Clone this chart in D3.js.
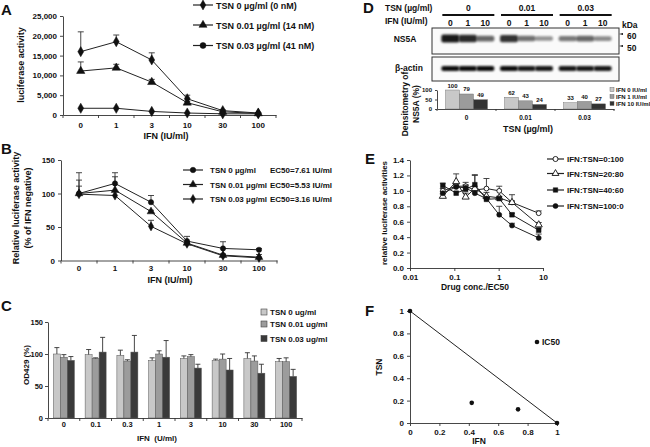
<!DOCTYPE html>
<html><head><meta charset="utf-8">
<script src="https://cdn.jsdelivr.net/npm/d3@7/dist/d3.min.js"></script>
<style>
body{margin:0;background:#fff;}
svg{display:block;}
</style></head><body>
<svg id="c" width="650" height="447"></svg>
<script>
// ---------------- DATA ----------------
// Panel A
const ifnCatsA = ["0","1","3","10","30","100"];
const aTicks = [0,5000,10000,15000,20000,25000];
const aTsn0 = [16000,18500,13900,4100,1100,500];
const aTsn001 = [11100,11900,8300,3100,800,400];
const aTsn003 = [1700,1700,900,500,300,300];
const aErr0 = [5000,1700,1800,900,200,100];
const aErr001 = [2300,900,700,300,100,100];
const aLegend = ["TSN 0 µg/ml (0 nM)","TSN 0.01 µg/ml (14 nM)","TSN 0.03 µg/ml (41 nM)"];
// Panel B
const bTicks = [0,50,100,150];
const bTsn0 = [100,115,87,29,18,16];
const bTsn001 = [100,105,73,26,8,5];
const bTsn003 = [99,97,51,25,7,4];
const bErr0 = [31,16,10,7,10,2];
const bErr001 = [20,20,2,2,2,4];
const bErr003 = [12,0,9,2,2,1];
const bLegend = ["TSN 0 µg/ml","TSN 0.01 µg/ml","TSN 0.03 µg/ml"];
const bEC50 = ["EC50=7.61 IU/ml","EC50=5.53 IU/ml","EC50=3.16 IU/ml"];
// Panel C
const ifnCatsC = ["0","0.1","0.3","1","3","10","30","100"];
const cTicks = [0,50,100,150];
const cTsn0 = [100,99,98,90,93,90,93,88];
const cTsn001 = [95,93,89,100,96,92,89,88];
const cTsn003 = [90,103,103,95,78,75,70,65];
const cErr0 = [10,8,8,4,4,2,9,5];
const cErr001 = [4,1,2,5,3,8,8,6];
const cErr003 = [6,23,26,26,6,18,14,11];
const cLegend = ["TSN 0 ug/ml","TSN 0.01 ug/ml","TSN 0.03 ug/ml"];
// Panel D
const dTsnGroups = ["0","0.01","0.03"];
const dIfnLanes = ["0","1","10"];
const dNs5aBand = [1.0,0.9,0.55,0.85,0.5,0.3,0.45,0.55,0.35];
const dActinBand = [0.95,0.95,0.95,0.95,0.9,0.9,0.9,0.9,0.9];
const dDens0 = [100,62,33];
const dDens1 = [79,43,40];
const dDens10 = [49,24,27];
const dTicks = [0,50,100];
const dLegend = ["IFN 0 IU/ml","IFN 1 IU/ml","IFN 10 IU/ml"];
// Panel E
const eX = [0.055,0.11,0.18,0.29,0.53,1.03,2.0,8.0];
const eXTicks = [0.01,0.1,1,10];
const eYTicks = [0,0.2,0.4,0.6,0.8,1.0,1.2,1.4];
const e0_100 = [1.0,1.06,1.06,1.01,1.03,1.0,0.85,0.71];
const e20_80 = [0.93,1.12,0.92,1.03,0.93,0.91,0.85,0.56];
const e40_60 = [1.07,0.97,1.02,1.08,0.89,0.9,0.69,0.49];
const e100_0 = [0.97,1.05,1.04,0.97,0.9,0.69,0.55,0.39];
const eErr0_100 = [0.03,0.04,0.05,0.05,0.13,0.06,0.1,0.03];
const eErr20_80 = [0.03,0.1,0.05,0.17,0.05,0.02,0.02,0.03];
const eErr40_60 = [0.03,0.02,0.06,0.13,0.03,0.02,0.02,0.03];
const eErr100_0 = [0.02,0.03,0.03,0.02,0.02,0.11,0.03,0.05];
const eLegend = ["IFN:TSN=0:100","IFN:TSN=20:80","IFN:TSN=40:60","IFN:TSN=100:0"];
// Panel F
const fIFN = [0,0.42,0.735,1];
const fTSN = [1,0.18,0.122,0];
const fTicks = [0,0.2,0.4,0.6,0.8,1];

// ---------------- HELPERS ----------------
const FONT = '"Liberation Sans", Arial, sans-serif';
const svg = d3.select("#c").attr("font-family",FONT).attr("font-weight","bold");
const INK = "#111";

function styleAxis(g, fs){
  g.attr("font-family",FONT).attr("font-size",fs).attr("font-weight","bold");
  g.selectAll("path,line").attr("stroke","#333").attr("stroke-width",0.9);
  g.selectAll("text").attr("fill",INK);
  return g;
}
function txt(x,y,s,fs,anchor,rot){
  const t = svg.append("text").attr("x",x).attr("y",y).text(s)
    .attr("font-size",fs).attr("fill",INK).attr("text-anchor",anchor||"start");
  if(rot) t.attr("transform",`rotate(${rot},${x},${y})`);
  return t;
}
function boundaryTicks(g, band, y0, len){
  const bounds = band.domain().map(d=>band(d)).concat([band.range()[1]]);
  g.selectAll(null).data(bounds).enter().append("line")
    .attr("x1",d=>d).attr("x2",d=>d).attr("y1",y0).attr("y2",y0+len)
    .attr("stroke","#333").attr("stroke-width",0.9);
}
function errBars(g, xs, ys, errs, yS, cap){
  errs.forEach((e,i)=>{
    if(e<=0) return;
    g.append("line").attr("x1",xs[i]).attr("x2",xs[i]).attr("y1",yS(ys[i])).attr("y2",yS(ys[i]+e))
      .attr("stroke","#333").attr("stroke-width",0.9);
    g.append("line").attr("x1",xs[i]-cap).attr("x2",xs[i]+cap).attr("y1",yS(ys[i]+e)).attr("y2",yS(ys[i]+e))
      .attr("stroke","#333").attr("stroke-width",0.9);
  });
}
function series(g, xs, ys, yS, sym, size, fill){
  g.append("path").attr("d", d3.line()(ys.map((v,i)=>[xs[i],yS(v)])))
    .attr("fill","none").attr("stroke","#222").attr("stroke-width",1);
  ys.forEach((v,i)=>{
    g.append("path").attr("d", d3.symbol().type(sym).size(size)())
      .attr("transform",`translate(${xs[i]},${yS(v)})`)
      .attr("fill",fill).attr("stroke","#111").attr("stroke-width",fill==="#fff"?0.9:0.5);
  });
}
function legendLine(x1,x2,y,sym,size,fill){
  svg.append("line").attr("x1",x1).attr("x2",x2).attr("y1",y).attr("y2",y).attr("stroke","#222").attr("stroke-width",1.2);
  svg.append("path").attr("d", d3.symbol().type(sym).size(size)())
    .attr("transform",`translate(${(x1+x2)/2},${y})`).attr("fill",fill).attr("stroke","#111").attr("stroke-width",fill==="#fff"?0.9:0.5);
}

// ---------------- PANEL A ----------------
{
  const g = svg.append("g");
  const x = d3.scaleBand().domain(ifnCatsA).range([63,276]);
  const y = d3.scaleLinear().domain([0,25000]).range([115,16]);
  styleAxis(g.append("g").attr("transform","translate(63,0)")
    .call(d3.axisLeft(y).tickValues(aTicks).tickSize(3).tickSizeOuter(0).tickPadding(3)), 8);
  styleAxis(g.append("g").attr("transform","translate(0,115)")
    .call(d3.axisBottom(x).tickSize(0).tickSizeOuter(0).tickPadding(7)), 8);
  boundaryTicks(g, x, 115, 3);
  const xs = ifnCatsA.map(d=>x(d)+x.bandwidth()/2);
  errBars(g, xs, aTsn0, aErr0, y, 3);
  errBars(g, xs, aTsn001, aErr001, y, 3);
  series(g, xs, aTsn0, y, d3.symbolDiamond, 30, "#111");
  series(g, xs, aTsn001, y, d3.symbolTriangle, 30, "#111");
  series(g, xs, aTsn003, y, d3.symbolDiamond, 30, "#111");
  const syms = [d3.symbolDiamond,d3.symbolTriangle,d3.symbolCircle];
  [5,25,45.5].forEach((ly,i)=>{ legendLine(193,213,ly,syms[i],28,"#111"); txt(216,ly+3.5,aLegend[i],9); });
  txt(24,65,"luciferase activity",9,"middle",-90);
  txt(166,139,"IFN (IU/ml)",9,"middle");
  txt(1,15,"A",15);
}
// ---------------- PANEL B ----------------
{
  const g = svg.append("g");
  const x = d3.scaleBand().domain(ifnCatsA).range([61,277]);
  const y = d3.scaleLinear().domain([0,150]).range([260.5,160]);
  styleAxis(g.append("g").attr("transform","translate(61,0)")
    .call(d3.axisLeft(y).tickValues(bTicks).tickSize(3).tickSizeOuter(0).tickPadding(3)), 8);
  styleAxis(g.append("g").attr("transform","translate(0,260.5)")
    .call(d3.axisBottom(x).tickSize(0).tickSizeOuter(0).tickPadding(5)), 8);
  boundaryTicks(g, x, 260.5, 3);
  const xs = ifnCatsA.map(d=>x(d)+x.bandwidth()/2);
  errBars(g, xs, bTsn0, bErr0, y, 3);
  errBars(g, xs, bTsn001, bErr001, y, 3);
  errBars(g, xs, bTsn003, bErr003, y, 3);
  series(g, xs, bTsn0, y, d3.symbolCircle, 22, "#111");
  series(g, xs, bTsn001, y, d3.symbolTriangle, 26, "#111");
  series(g, xs, bTsn003, y, d3.symbolDiamond, 24, "#111");
  const syms = [d3.symbolCircle,d3.symbolTriangle,d3.symbolDiamond];
  [170,184.5,199].forEach((ly,i)=>{ legendLine(183,203,ly,syms[i],24,"#111"); txt(210,ly+3,bLegend[i],8); txt(270,ly+3,bEC50[i],8); });
  txt(19,208,"Relative luciferase activity",9,"middle",-90);
  txt(31,208,"(% of IFN negative)",9,"middle",-90);
  txt(170,283,"IFN (IU/ml)",9,"middle");
  txt(1,154,"B",15);
}
// ---------------- PANEL C ----------------
{
  const g = svg.append("g");
  const x = d3.scaleBand().domain(ifnCatsC).range([48,302]);
  const y = d3.scaleLinear().domain([0,150]).range([418,322]);
  styleAxis(g.append("g").attr("transform","translate(48,0)")
    .call(d3.axisLeft(y).tickValues(cTicks).tickSize(3).tickSizeOuter(0).tickPadding(2)), 7.5);
  styleAxis(g.append("g").attr("transform","translate(0,418)")
    .call(d3.axisBottom(x).tickSize(0).tickSizeOuter(0).tickPadding(4)), 7.5);
  boundaryTicks(g, x, 418, 3);
  const inner = d3.scaleBand().domain([0,1,2]).range([0,21]);
  const cols = ["#c8c8c8","#9c9c9c","#3a3a3a"];
  const vals = [cTsn0,cTsn001,cTsn003], errs=[cErr0,cErr001,cErr003];
  vals.forEach((arr,s)=>{
    arr.forEach((v,i)=>{
      const bx = x(ifnCatsC[i]) + x.bandwidth()/2 - 10.5 + inner(s);
      g.append("rect").attr("x",bx).attr("y",y(v)).attr("width",inner.bandwidth()).attr("height",y(0)-y(v))
        .attr("fill",cols[s]).attr("stroke","#555").attr("stroke-width",0.5);
    });
    errBars(g, arr.map((v,i)=>x(ifnCatsC[i])+x.bandwidth()/2-10.5+inner(s)+inner.bandwidth()/2), arr, errs[s], y, 2.5);
  });
  [312,324,338.5].forEach((ly,i)=>{
    svg.append("rect").attr("x",261).attr("y",ly-3).attr("width",6).attr("height",6).attr("fill",cols[i]).attr("stroke","#444").attr("stroke-width",0.6);
    txt(270,ly+3,cLegend[i],8);
  });
  txt(29,365,"OD429 (%)",8,"middle",-90);
  txt(157,441,"IFN  (U/ml)",8,"middle").style("white-space","pre");
  txt(1,311,"C",15);
}
// ---------------- PANEL D ----------------
{
  const g = svg.append("g");
  const defs = svg.append("defs");
  defs.append("filter").attr("id","blur").attr("x","-50%").attr("y","-100%").attr("width","200%").attr("height","300%")
    .append("feGaussianBlur").attr("stdDeviation","1.1 0.9");
  const grp = d3.scaleBand().domain(dTsnGroups).range([439,615]);
  const lane = d3.scalePoint().domain(dIfnLanes).range([-18,17]);
  const laneX = [];
  dTsnGroups.forEach(gk=>dIfnLanes.forEach(l=>laneX.push(grp(gk)+grp.bandwidth()/2+lane(l))));
  txt(363,13,"D",15);
  txt(385,11,"TSN (µg/ml)",8.5);
  txt(385,24,"IFN (IU/ml)",8.5);
  dTsnGroups.forEach(gk=>{
    const cx = grp(gk)+grp.bandwidth()/2;
    txt(cx,11,gk,8.5,"middle");
    g.append("line").attr("x1",cx-26).attr("x2",cx+26).attr("y1",15).attr("y2",15).attr("stroke","#111").attr("stroke-width",2);
  });
  laneX.forEach((lx,i)=>txt(lx,25.5,dIfnLanes[i%3],8.5,"middle"));
  g.append("rect").attr("x",432).attr("y",28).attr("width",187).attr("height",26).attr("fill","#fafafa").attr("stroke","#333").attr("stroke-width",1);
  g.append("rect").attr("x",432).attr("y",57).attr("width",187).attr("height",24).attr("fill","#fafafa").attr("stroke","#333").attr("stroke-width",1);
  dNs5aBand.forEach((v,i)=>{
    g.append("rect").attr("x",laneX[i]-9).attr("y",38.5-1.5-2.5*v).attr("width",18).attr("height",3+5*v).attr("rx",2)
      .attr("fill","#000").attr("opacity",0.2+0.7*v).attr("filter","url(#blur)");
  });
  dActinBand.forEach((v,i)=>{
    g.append("rect").attr("x",laneX[i]-9).attr("y",69-3).attr("width",18).attr("height",5).attr("rx",2)
      .attr("fill","#000").attr("opacity",v).attr("filter","url(#blur)");
  });
  txt(405,42,"NS5A",8.5,"middle");
  txt(409,71,"β-actin",8.5,"middle");
  txt(622,28,"kDa",8.5);
  txt(627,39,"60",8.5); txt(627,51,"50",8.5);
  g.append("path").attr("d","M619,34 l4,-1 l0,2 z").attr("fill","#111");
  g.append("path").attr("d","M619,46 l4,-1 l0,2 z").attr("fill","#111");
  const yD = d3.scaleLinear().domain([0,100]).range([109,90]);
  const xD = d3.scaleBand().domain(dTsnGroups).range([437,614]);
  const inner = d3.scaleBand().domain([0,1,2]).range([0,42]);
  styleAxis(g.append("g").attr("transform","translate(437,0)")
    .call(d3.axisLeft(yD).tickValues(dTicks).tickSize(2).tickSizeOuter(0).tickPadding(3)), 6);
  styleAxis(g.append("g").attr("transform","translate(0,109)")
    .call(d3.axisBottom(xD).tickSize(0).tickSizeOuter(0).tickPadding(6)), 6.5);
  boundaryTicks(g, xD, 109, 2);
  const dc = ["#c8c8c8","#9c9c9c","#333"];
  [dDens0,dDens1,dDens10].forEach((arr,s)=>{
    arr.forEach((v,i)=>{
      const bx = xD(dTsnGroups[i])+xD.bandwidth()/2-21+inner(s);
      g.append("rect").attr("x",bx).attr("y",yD(v)).attr("width",inner.bandwidth()).attr("height",yD(0)-yD(v))
        .attr("fill",dc[s]).attr("stroke","#666").attr("stroke-width",0.4);
      txt(bx+inner.bandwidth()/2, yD(v)-2.5, String(v), 6, "middle");
    });
  });
  [90,97,104].forEach((ly,i)=>{
    svg.append("rect").attr("x",610).attr("y",ly-2.5).attr("width",4).attr("height",4).attr("fill",dc[i]).attr("stroke","#555").attr("stroke-width",0.4);
    txt(616,ly+1.5,dLegend[i],6);
  });
  txt(528,132,"TSN (µg/ml)",9,"middle");
  txt(408,104,"Densitometry of",8.5,"middle",-90);
  txt(419,104,"NS5A (%)",8.5,"middle",-90);
}
// ---------------- PANEL E ----------------
{
  const g = svg.append("g");
  const x = d3.scaleLog().domain([0.01,10]).range([410,543]);
  const y = d3.scaleLinear().domain([0,1.4]).range([268,160]);
  styleAxis(g.append("g").attr("transform","translate(410,0)")
    .call(d3.axisLeft(y).tickValues(eYTicks).tickFormat(d3.format(".1f")).tickSize(3).tickSizeOuter(0).tickPadding(3)), 8);
  styleAxis(g.append("g").attr("transform","translate(0,268)")
    .call(d3.axisBottom(x).tickValues(eXTicks).tickFormat(d=>String(d)).tickSize(3).tickSizeOuter(0).tickPadding(3)), 8);
  const xs = eX.map(v=>x(v));
  errBars(g, xs, e0_100, eErr0_100, y, 3);
  errBars(g, xs, e20_80, eErr20_80, y, 3);
  errBars(g, xs, e40_60, eErr40_60, y, 3);
  errBars(g, xs, e100_0, eErr100_0, y, 3);
  series(g, xs, e0_100, y, d3.symbolCircle, 18, "#fff");
  series(g, xs, e20_80, y, d3.symbolTriangle, 22, "#fff");
  series(g, xs, e40_60, y, d3.symbolSquare, 22, "#111");
  series(g, xs, e100_0, y, d3.symbolCircle, 20, "#111");
  const syms=[d3.symbolCircle,d3.symbolTriangle,d3.symbolSquare,d3.symbolCircle];
  const fills=["#fff","#fff","#111","#111"];
  [159,173.5,190,206].forEach((ly,i)=>{ legendLine(547,564,ly,syms[i],20,fills[i]); txt(567,ly+3,eLegend[i],8); });
  txt(387,213,"relative luciferase activities",8,"middle",-90);
  txt(475,290,"Drug conc./EC50",8.5,"middle");
  txt(365,164,"E",15);
}
// ---------------- PANEL F ----------------
{
  const g = svg.append("g");
  const x = d3.scaleLinear().domain([0,1]).range([410,557]);
  const y = d3.scaleLinear().domain([0,1]).range([423,311]);
  styleAxis(g.append("g").attr("transform","translate(410,0)")
    .call(d3.axisLeft(y).tickValues(fTicks).tickFormat(d3.format("~g")).tickSize(3).tickSizeOuter(0).tickPadding(3)), 8);
  styleAxis(g.append("g").attr("transform","translate(0,423)")
    .call(d3.axisBottom(x).tickValues(fTicks).tickFormat(d3.format("~g")).tickSize(3).tickSizeOuter(0).tickPadding(3)), 8);
  g.append("line").attr("x1",x(0)).attr("y1",y(1)).attr("x2",x(1)).attr("y2",y(0)).attr("stroke","#222").attr("stroke-width",1);
  fIFN.forEach((v,i)=>g.append("circle").attr("cx",x(v)).attr("cy",y(fTSN[i])).attr("r",2.3).attr("fill","#111"));
  svg.append("circle").attr("cx",537).attr("cy",342).attr("r",2.3).attr("fill","#111");
  txt(542,345,"IC50",8.5);
  txt(382,367,"TSN",8.5,"middle",-90);
  txt(479,444,"IFN",8.5,"middle");
  txt(365,316,"F",15);
}
</script>
</body></html>
